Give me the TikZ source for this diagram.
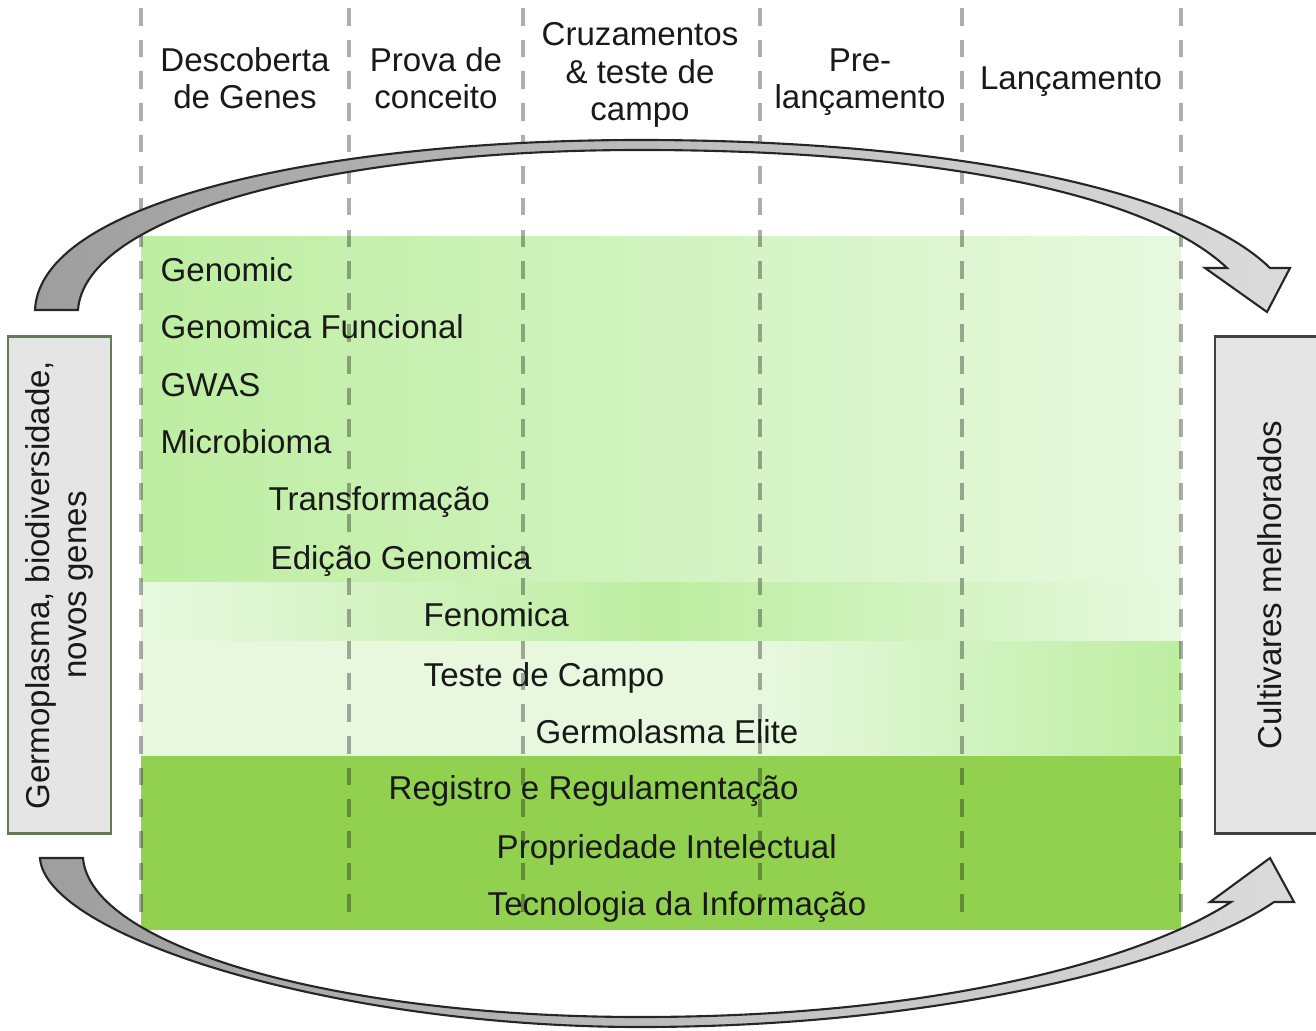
\documentclass[tikz,border=0pt]{standalone}
\usepackage{fontspec}
\setmainfont{Liberation Sans}
\definecolor{verdeforte}{HTML}{BDEEA1}
\definecolor{verdeclaro}{HTML}{E7F8DF}
\definecolor{verdefundo}{HTML}{92D050}
\definecolor{bordaesq}{HTML}{647A58}

\begin{document}
\begin{tikzpicture}[x=0.01cm, y=-0.01cm,
        every node/.style={font=\fontsize{9.4}{10.6}\selectfont, text=black!90, inner sep=0pt},
        fase/.style={align=center},
        item/.style={anchor=base west},
        caixa/.style={fill=black!10, line width=0.8pt, minimum width=4.96cm, rotate=90, align=center},
        seta/.style={draw=black!85, line width=0.6pt, left color=black!38, right color=black!14},
        divisa/.style={black, opacity=0.32, line width=0.9pt, dash pattern=on 5pt off 4pt}]
        \useasboundingbox (0,0) rectangle (1316,1031);
        \shade[left color=verdeforte, right color=verdeclaro] (141,237) rectangle (1181,582);
        \shade[left color=verdeclaro, right color=verdeclaro, middle color=verdeforte] (141,582) rectangle (1181,641);
        \fill[verdeclaro] (141,641) rectangle (760,756);
        \shade[left color=verdeclaro, right color=verdeforte] (760,641) rectangle (1181,756);
        \fill[verdefundo] (141,756) rectangle (1181,930);
        \draw[divisa] (141,8) -- (141,920);
        \draw[divisa] (349,8) -- (349,920);
        \draw[divisa] (523,8) -- (523,920);
        \draw[divisa] (760,8) -- (760,920);
        \draw[divisa] (962,8) -- (962,920);
        \draw[divisa] (1181,8) -- (1181,920);
        \node (descoberta) at (245,78) [fase] {Descoberta\\de Genes};
        \node (prova) at (436,78) [fase] {Prova de\\conceito};
        \node (cruzamentos) at (640,75) [fase] {Cruzamentos\\\& teste de\\campo};
        \node (prelanc) at (860,82) [fase] {Pre-\\lançamento};
        \node (lancamento) at (1071,82) [fase] {Lançamento};
        \node (germoplasma) at (59.5,585) [caixa, draw=bordaesq, minimum height=1.03cm] {Germoplasma, biodiversidade,\\novos genes};
        \node (cultivares) at (1270,585) [caixa, draw=black!75, minimum height=1.1cm] {Cultivares melhorados};
        \shade[seta] (35,310) .. controls (40,200) and (330,140) .. (640,140)
            .. controls (950,140) and (1190,190) .. (1270,268)
            -- (1290,268) -- (1267,312) -- (1205,268) -- (1227,268)
            .. controls (1150,195) and (940,150) .. (640,150)
            .. controls (330,150) and (85,215) .. (78,310) -- cycle;
        \shade[seta] (40,858) .. controls (45,935) and (330,1027) .. (640,1027)
            .. controls (950,1027) and (1190,960) .. (1274,902)
            -- (1294,902) -- (1270,858) -- (1210,902) -- (1231,902)
            .. controls (1150,955) and (950,1017) .. (640,1017)
            .. controls (330,1017) and (90,945) .. (83,858) -- cycle;
        \node (genomic) at (160,282) [item] {Genomic};
        \node (funcional) at (160,339) [item] {Genomica Funcional};
        \node (gwas) at (160,397) [item] {GWAS};
        \node (microbioma) at (160,454) [item] {Microbioma};
        \node (transformacao) at (268,511) [item] {Transformação};
        \node (edicao) at (270,569) [item] {Edição Genomica};
        \node (fenomica) at (423,626) [item] {Fenomica};
        \node (testecampo) at (423,686) [item] {Teste de Campo};
        \node (elite) at (535,743) [item] {Germolasma Elite};
        \node (registro) at (388,799) [item] {Registro e Regulamentação};
        \node (propriedade) at (496,858) [item] {Propriedade Intelectual};
        \node (tecnologia) at (487,915) [item] {Tecnologia da Informação};
    \end{tikzpicture}
\end{document}
